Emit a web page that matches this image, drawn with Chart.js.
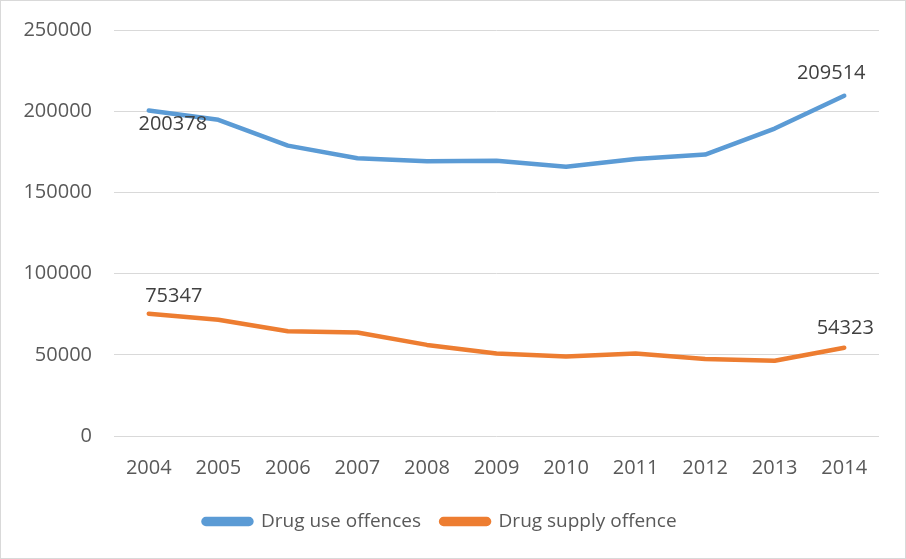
<!DOCTYPE html>
<html>
<head>
<meta charset="utf-8">
<script src="https://cdn.jsdelivr.net/npm/chart.js@4.4.1/dist/chart.umd.min.js"></script>
<style>
    html, body { margin: 0; padding: 0; background: #fff; }
    #wrap {
        position: absolute; left: 0; top: 0;
        width: 906px; height: 559px;
        box-sizing: border-box;
        border: 1px solid #d9d9d9;
    }
    canvas { display: block; }
</style>
</head>
<body>
<div id="wrap"><canvas id="chart" width="904" height="557"></canvas></div>
<script>
// data
const years = ['2004', '2005', '2006', '2007', '2008', '2009', '2010', '2011', '2012', '2013', '2014'];
const drugUse = [200378, 194700, 178800, 171000, 169200, 169500, 165800, 170500, 173300, 189300, 209514];
const drugSupply = [75347, 71600, 64500, 63700, 56100, 50800, 48900, 50800, 47400, 46300, 54323];
const seriesNames = ['Drug use offences', 'Drug supply offence'];

const BLUE = '#5B9BD5';
const ORANGE = '#ED7D31';
const TEXT = '#595959';
const FONT = "'Open Sans', 'Noto Sans', sans-serif";
const FSIZE = 20;

// value labels on first and last point (offsets relative to the point)
const labelOffsets = [
    { first: [24, 14], last: [-13, -22] },
    { first: [25, -17], last: [1, -19] }
];

const endLabels = {
    id: 'endLabels',
    afterDatasetsDraw(chart) {
        const ctx = chart.ctx;
        ctx.save();
        ctx.font = FSIZE + 'px ' + FONT;
        ctx.fillStyle = '#404040';
        ctx.textAlign = 'center';
        ctx.textBaseline = 'middle';
        chart.data.datasets.forEach((ds, di) => {
            const meta = chart.getDatasetMeta(di);
            const n = ds.data.length;
            const p0 = meta.data[0], pN = meta.data[n - 1];
            const o = labelOffsets[di];
            ctx.fillText(String(ds.data[0]), p0.x + o.first[0], p0.y + o.first[1]);
            ctx.fillText(String(ds.data[n - 1]), pN.x + o.last[0], pN.y + o.last[1]);
        });
        ctx.restore();
    }
};

new Chart(document.getElementById('chart'), {
    type: 'line',
    data: {
        labels: years,
        datasets: [
            {
                label: seriesNames[0],
                data: drugUse,
                borderColor: BLUE,
                backgroundColor: BLUE,
                borderWidth: 4.5,
                borderCapStyle: 'round',
                borderJoinStyle: 'round',
                pointRadius: 0,
                tension: 0
            },
            {
                label: seriesNames[1],
                data: drugSupply,
                borderColor: ORANGE,
                backgroundColor: ORANGE,
                borderWidth: 4.5,
                borderCapStyle: 'round',
                borderJoinStyle: 'round',
                pointRadius: 0,
                tension: 0
            }
        ]
    },
    options: {
        responsive: false,
        animation: false,
        layout: { padding: { left: 0, right: 26, top: 29, bottom: 17 } },
        plugins: {
            legend: {
                position: 'bottom',
                labels: {
                    boxWidth: 48,
                    boxHeight: 5,
                    useBorderRadius: true,
                    borderRadius: 2.5,
                    padding: 20,
                    color: TEXT,
                    font: { family: FONT, size: 19 }
                }
            },
            tooltip: { enabled: false }
        },
        scales: {
            x: {
                offset: true,
                grid: { display: false, drawTicks: false },
                border: { display: false },
                ticks: {
                    color: TEXT,
                    font: { family: FONT, size: FSIZE },
                    padding: 20,
                    maxRotation: 0
                },
                afterFit(scale) { scale.height = 56; }
            },
            y: {
                min: 0,
                max: 250000,
                grid: { color: '#d9d9d9', lineWidth: 1, drawTicks: false },
                border: { display: false },
                ticks: {
                    stepSize: 50000,
                    color: TEXT,
                    font: { family: FONT, size: FSIZE },
                    padding: 22,
                    callback: v => String(v)
                },
                afterFit(scale) {
                    scale.width = 113;
                    scale.paddingTop = 0;
                    scale.paddingBottom = 0;
                }
            }
        }
    },
    plugins: [endLabels]
});
</script>
</body>
</html>
